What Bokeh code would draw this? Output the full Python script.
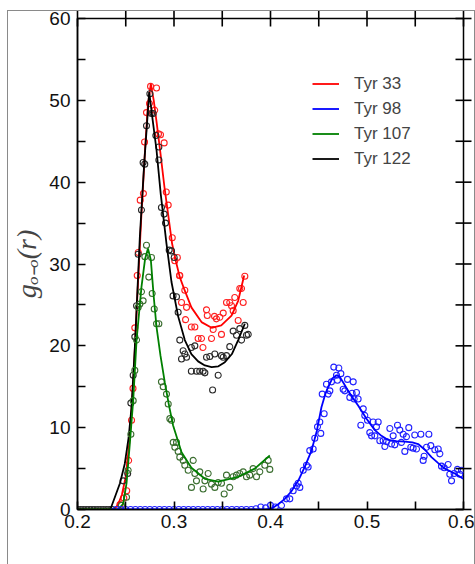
import math
from bokeh.plotting import figure
from bokeh.models import Range1d, Legend, LegendItem, Label, FixedTicker
from bokeh.embed import file_html
from bokeh.resources import INLINE

# ---------------- data ----------------
x_ticks = [0.2, 0.3, 0.4, 0.5, 0.6]
x_minor = [0.25, 0.35, 0.45, 0.55]
y_ticks = [0, 10, 20, 30, 40, 50, 60]
y_minor = [5, 15, 25, 35, 45, 55]

series_names = ["Tyr 33", "Tyr 98", "Tyr 107", "Tyr 122"]

tyr33_r = [0.244, 0.248, 0.251, 0.253, 0.256, 0.2575, 0.2594, 0.2619, 0.263, 0.265, 0.2683, 0.2695,
           0.2715, 0.2746, 0.2757, 0.2819, 0.280, 0.2839, 0.286, 0.2898, 0.292, 0.294, 0.2982, 0.3008,
           0.3035, 0.3057, 0.306, 0.3078, 0.3112, 0.312, 0.313, 0.318, 0.3216, 0.325, 0.3285, 0.330,
           0.3337, 0.3345, 0.3389, 0.3406, 0.342, 0.344, 0.3475, 0.3492, 0.351, 0.3544, 0.3578, 0.3596,
           0.3613, 0.363, 0.3665, 0.3682, 0.370, 0.3717, 0.3734]
tyr33_g = [0.6, 1.4, 2.3, 6.0, 10.9, 14.8, 22.2, 28.6, 31.4, 37.8, 38.6, 44.9,
           48.5, 49.6, 51.7, 51.5, 48.8, 45.9, 45.8, 44.8, 38.8, 37.2, 33.2, 30.4,
           30.8, 28.6, 28.6, 25.3, 26.8, 23.2, 24.7, 22.3, 22.3, 20.9, 20.9, 19.8,
           24.4, 23.7, 20.9, 22.0, 23.6, 23.3, 23.5, 21.4, 24.0, 25.3, 25.3, 24.9,
           24.3, 25.9, 23.1, 27.0, 27.0, 25.3, 28.5]
tyr33_fit_r = [0.2, 0.238, 0.242, 0.246, 0.25, 0.254, 0.258, 0.262, 0.266, 0.27, 0.273, 0.276,
               0.279, 0.282, 0.286, 0.29, 0.294, 0.298, 0.302, 0.306, 0.311, 0.318, 0.3285,
               0.339, 0.349, 0.3596, 0.3665, 0.3727]
tyr33_fit_g = [0.0, 0.0, 0.6, 1.8, 4.0, 8.5, 16.0, 26.0, 35.5, 44.0, 49.5, 52.0,
               50.0, 47.3, 43.5, 39.5, 36.0, 32.5, 30.3, 28.4, 26.8, 24.7, 22.9,
               22.2, 22.5, 23.7, 25.5, 28.6]

tyr98_r = [0.240, 0.245, 0.250, 0.255, 0.260, 0.265, 0.270, 0.275, 0.280, 0.285, 0.290, 0.295,
           0.300, 0.305, 0.310, 0.315, 0.320, 0.325, 0.330, 0.335, 0.340, 0.345, 0.350, 0.355,
           0.360, 0.365, 0.370, 0.375, 0.380, 0.385, 0.390, 0.395, 0.400, 0.405,
           0.4114, 0.4166, 0.42, 0.4235, 0.427, 0.4287, 0.4304, 0.4339, 0.4373, 0.439, 0.4407, 0.4442,
           0.4459, 0.4487, 0.4511, 0.4521, 0.4536, 0.4556, 0.458, 0.4598, 0.4615, 0.4632, 0.4656,
           0.4684, 0.4694, 0.4708, 0.4729, 0.4753, 0.477, 0.4798, 0.4822, 0.4846, 0.4857, 0.4867,
           0.4891, 0.4908, 0.4936, 0.4961, 0.4977, 0.5005, 0.5029, 0.5047, 0.5064, 0.5081, 0.5098,
           0.5116, 0.5133, 0.5167, 0.5185, 0.5202, 0.5237, 0.5254, 0.5271, 0.5288, 0.5316, 0.534,
           0.5357, 0.5375, 0.5392, 0.5409, 0.5433, 0.5454, 0.5478, 0.5495, 0.5513, 0.5558, 0.5582,
           0.5592, 0.5617, 0.5641, 0.5661, 0.5703, 0.5738, 0.5755, 0.5772, 0.58, 0.5841, 0.5858,
           0.5876, 0.5903, 0.5938, 0.5962, 0.5979]
tyr98_g = [0.0, 0.0, 0.0, 0.0, 0.0, 0.0, 0.0, 0.0, 0.0, 0.0, 0.0, 0.0,
           0.0, 0.0, 0.0, 0.0, 0.0, 0.0, 0.0, 0.0, 0.0, 0.0, 0.0, 0.0,
           0.0, 0.0, 0.0, 0.0, 0.0, 0.1, 0.3, 0.2, 0.5, 0.3,
           0.5, 1.3, 1.3, 2.3, 2.9, 3.2, 2.7, 4.8, 5.4, 5.2, 7.2, 7.4,
           8.7, 10.1, 10.7, 9.3, 14.1, 11.7, 15.3, 14.1, 14.5, 15.6, 17.4,
           16.4, 15.8, 17.3, 16.6, 14.7, 14.5, 15.9, 13.7, 14.2, 15.6, 13.5,
           14.3, 13.5, 10.3, 12.3, 11.5, 10.9, 9.4, 9.0, 10.7, 9.0, 10.1,
           10.7, 8.4, 8.4, 7.7, 8.3, 9.9, 8.0, 9.0, 7.9, 10.3, 9.7,
           8.2, 9.2, 7.1, 8.9, 10.0, 7.6, 7.5, 9.1, 7.4, 9.2, 6.0,
           6.5, 7.6, 9.2, 7.8, 7.3, 7.4, 6.8, 5.3, 5.1, 5.5, 4.3,
           3.5, 4.4, 4.9, 4.3, 4.8]
tyr98_fit_r = [0.235, 0.395, 0.401, 0.4075, 0.4148, 0.4215, 0.4287, 0.4355, 0.4425, 0.448, 0.4528,
               0.4565, 0.4598, 0.464, 0.4684, 0.4718, 0.476, 0.4805, 0.4855, 0.4908, 0.4995, 0.5081,
               0.515, 0.5219, 0.5305, 0.5392, 0.547, 0.553, 0.56, 0.5668, 0.5735, 0.5806, 0.591, 0.5997]
tyr98_fit_g = [0.0, 0.0, 0.1, 0.6, 1.3, 2.2, 3.5, 5.2, 7.2, 9.6, 12.5,
               14.0, 15.0, 16.0, 16.4, 16.2, 15.4, 14.5, 13.6, 12.7, 11.1, 9.7,
               9.0, 8.5, 8.35, 8.3, 8.2, 8.0, 7.3, 6.4, 5.7, 5.0, 4.4, 3.75]

tyr107_r = [0.2455, 0.2508, 0.2525, 0.2553, 0.2577, 0.2594, 0.2612, 0.2629, 0.2646, 0.2663, 0.268,
            0.2698, 0.2715, 0.2739, 0.2767, 0.2774, 0.2795, 0.2819, 0.2843, 0.287, 0.2888, 0.2922,
            0.294, 0.2957, 0.2974, 0.2992, 0.3009, 0.3026, 0.3043, 0.306, 0.3095, 0.3112, 0.3147,
            0.3181, 0.3199, 0.3216, 0.3233, 0.3267, 0.3302, 0.332, 0.3354, 0.3389, 0.3423, 0.3458,
            0.3492, 0.352, 0.3544, 0.3578, 0.3613, 0.3648, 0.3682, 0.3717, 0.3751, 0.3785, 0.382,
            0.3855, 0.3889, 0.3941, 0.3976, 0.3993]
tyr107_g = [0.5, 1.5, 4.8, 9.2, 13.3, 17.0, 20.7, 24.7, 25.1, 26.6, 25.5,
            30.9, 32.3, 28.4, 30.8, 26.4, 24.5, 22.7, 22.7, 15.6, 15.0, 14.1,
            12.9, 11.1, 10.9, 8.2, 7.6, 8.2, 7.1, 6.4, 6.0, 5.4, 4.8,
            2.7, 6.0, 4.4, 3.5, 4.6, 2.5, 3.5, 4.4, 3.1, 2.7, 3.3,
            3.2, 1.9, 4.2, 2.7, 4.0, 4.2, 4.4, 4.6, 4.0, 4.2, 5.0,
            4.0, 4.6, 5.4, 6.0, 4.9]
tyr107_fit_r = [0.2, 0.242, 0.2473, 0.2508, 0.2542, 0.2577, 0.2612, 0.2663, 0.27, 0.273, 0.276,
                0.279, 0.2819, 0.286, 0.2905, 0.295, 0.299, 0.3078, 0.318, 0.332, 0.3458, 0.3665,
                0.3837, 0.3993]
tyr107_fit_g = [0.0, 0.0, 0.7, 3.2, 8.0, 13.3, 20.7, 27.2, 30.6, 31.9, 30.5,
                26.0, 22.3, 18.8, 15.5, 12.6, 10.3, 7.0, 5.1, 3.75, 3.4, 4.0,
                5.0, 6.6]

tyr122_r = [0.200, 0.203, 0.206, 0.209, 0.212, 0.215, 0.218, 0.221, 0.224, 0.227, 0.230, 0.233, 0.236,
            0.2473, 0.252, 0.2553, 0.2577, 0.2594, 0.2612, 0.2629, 0.2663, 0.268, 0.2697, 0.2715,
            0.275, 0.2767, 0.2784, 0.2812, 0.2843, 0.2843, 0.287, 0.2898, 0.2912, 0.295, 0.2974,
            0.3002, 0.299, 0.3026, 0.3043, 0.306, 0.3078, 0.3095, 0.3112, 0.313, 0.318, 0.318,
            0.3216, 0.3233, 0.3267, 0.3302, 0.332, 0.3337, 0.3371, 0.340, 0.3423, 0.3458, 0.3492,
            0.351, 0.3544, 0.3578, 0.3613, 0.3648, 0.3682, 0.370, 0.3734, 0.3751, 0.3769]
tyr122_g = [0.0, 0.0, 0.0, 0.0, 0.0, 0.0, 0.0, 0.0, 0.0, 0.0, 0.0, 0.0, 0.0,
            3.5, 4.4, 13.0, 16.4, 21.1, 24.9, 31.2, 36.6, 42.4, 42.2, 46.9,
            50.8, 48.4, 48.4, 45.7, 44.3, 42.7, 36.9, 36.1, 35.0, 31.7, 31.6,
            30.8, 26.1, 26.0, 24.1, 20.7, 18.4, 19.4, 19.0, 18.6, 19.8, 16.9,
            20.0, 16.9, 16.9, 16.9, 16.7, 18.6, 18.7, 14.6, 19.0, 16.4, 18.8,
            18.6, 18.8, 19.9, 21.8, 21.3, 22.1, 20.7, 22.5, 21.3, 21.4]
tyr122_fit_r = [0.2, 0.234, 0.2387, 0.244, 0.249, 0.253, 0.256, 0.2594, 0.2629, 0.2646, 0.2691,
                0.2743, 0.278, 0.2819, 0.2863, 0.2922, 0.2974, 0.3043, 0.3112, 0.318, 0.325, 0.332,
                0.339, 0.346, 0.3527, 0.36, 0.3665, 0.3734]
tyr122_fit_g = [0.0, 0.0, 1.5, 3.2, 5.6, 8.8, 12.5, 19.8, 28.8, 33.3, 42.2,
                51.0, 47.5, 43.9, 38.5, 32.5, 27.8, 23.6, 20.7, 19.0, 18.1, 17.6,
                17.4, 17.5, 18.0, 19.0, 20.7, 22.7]

# ---------------- figure ----------------
X0, X1, Y0, Y1 = 0.2, 0.6, 0, 60
FW, FH = 386, 491
p = figure(frame_width=FW, frame_height=FH,
           min_border_left=68, min_border_right=11, min_border_top=7, min_border_bottom=55,
           x_range=Range1d(X0, X1), y_range=Range1d(Y0, Y1),
           output_backend="svg", toolbar_location=None)
p.styles = {"margin-left": "8px", "margin-top": "11px",
            "outline": "1px solid #8a8a8a"}
p.background_fill_color = "white"
p.border_fill_color = "white"
p.grid.visible = False
p.outline_line_color = "black"
p.outline_line_width = 1.5

TICK_FONT = "Liberation Sans"
for ax in (p.xaxis[0], p.yaxis[0]):
    ax.major_tick_in = 8
    ax.major_tick_out = 0
    ax.minor_tick_in = 8
    ax.minor_tick_out = 0
    ax.major_tick_line_width = 1.6
    ax.minor_tick_line_width = 1.6
    ax.axis_line_width = 1.5
    ax.major_label_text_font = TICK_FONT
    ax.major_label_text_font_size = "19px"
    ax.major_label_text_color = "#111111"
p.xaxis[0].ticker = FixedTicker(ticks=x_ticks, minor_ticks=x_minor)
p.yaxis[0].ticker = FixedTicker(ticks=y_ticks, minor_ticks=y_minor)
p.xaxis[0].major_label_standoff = 5
p.yaxis[0].major_label_standoff = 7

p.yaxis[0].axis_label = "g\u2092\u208b\u2092(r)"
p.yaxis[0].axis_label_text_font = "Liberation Serif"
p.yaxis[0].axis_label_text_font_style = "italic"
p.yaxis[0].axis_label_text_font_size = "28px"
p.yaxis[0].axis_label_standoff = 4

# mirrored tick marks on top and right edges (dash markers centred on the edge)
top_x = x_ticks + x_minor
right_y = y_ticks + y_minor
p.scatter(x=top_x, y=[Y1] * len(top_x), marker="dash", size=16, angle=math.pi / 2,
          line_color="black", line_width=1.6, level="overlay")
p.scatter(x=[X1] * len(right_y), y=right_y, marker="dash", size=16,
          line_color="black", line_width=1.6, level="overlay")

# ---------------- series ----------------
RED, BLUE, GREEN, BLACK = "#ff0000", "#0000ff", "#008000", "#000000"
RED_PT, BLUE_PT, GREEN_PT, BLACK_PT = "#ff2020", "#2020ff", "#3b6e30", "#2a2a2a"

def draw(r, g, fr, fg, lc, pc):
    p.scatter(r, g, marker="circle", size=6, fill_color=None, line_color=pc, line_width=1.1)
    return p.line(fr, fg, line_color=lc, line_width=1.8)

l33 = draw(tyr33_r, tyr33_g, tyr33_fit_r, tyr33_fit_g, RED, RED_PT)
l122 = draw(tyr122_r, tyr122_g, tyr122_fit_r, tyr122_fit_g, BLACK, BLACK_PT)
l107 = draw(tyr107_r, tyr107_g, tyr107_fit_r, tyr107_fit_g, GREEN, GREEN_PT)
l98 = draw(tyr98_r, tyr98_g, tyr98_fit_r, tyr98_fit_g, BLUE, BLUE_PT)

legend = Legend(items=[LegendItem(label=series_names[0], renderers=[l33]),
                       LegendItem(label=series_names[1], renderers=[l98]),
                       LegendItem(label=series_names[2], renderers=[l107]),
                       LegendItem(label=series_names[3], renderers=[l122])],
                location=(235, 338), border_line_color=None, background_fill_alpha=0,
                padding=0, margin=0, spacing=0, glyph_width=27, glyph_height=25,
                label_height=25, label_standoff=15,
                label_text_font="Liberation Sans", label_text_font_size="17px")
p.add_layout(legend)

p.add_layout(Label(x=181, y=-47, x_units="screen", y_units="screen", text="r(nm)",
                   text_align="center", text_baseline="alphabetic",
                   text_font="Liberation Serif", text_font_style="italic",
                   text_font_size="25px", text_color="black"))

open("out.html", "w").write(file_html(p, INLINE))
